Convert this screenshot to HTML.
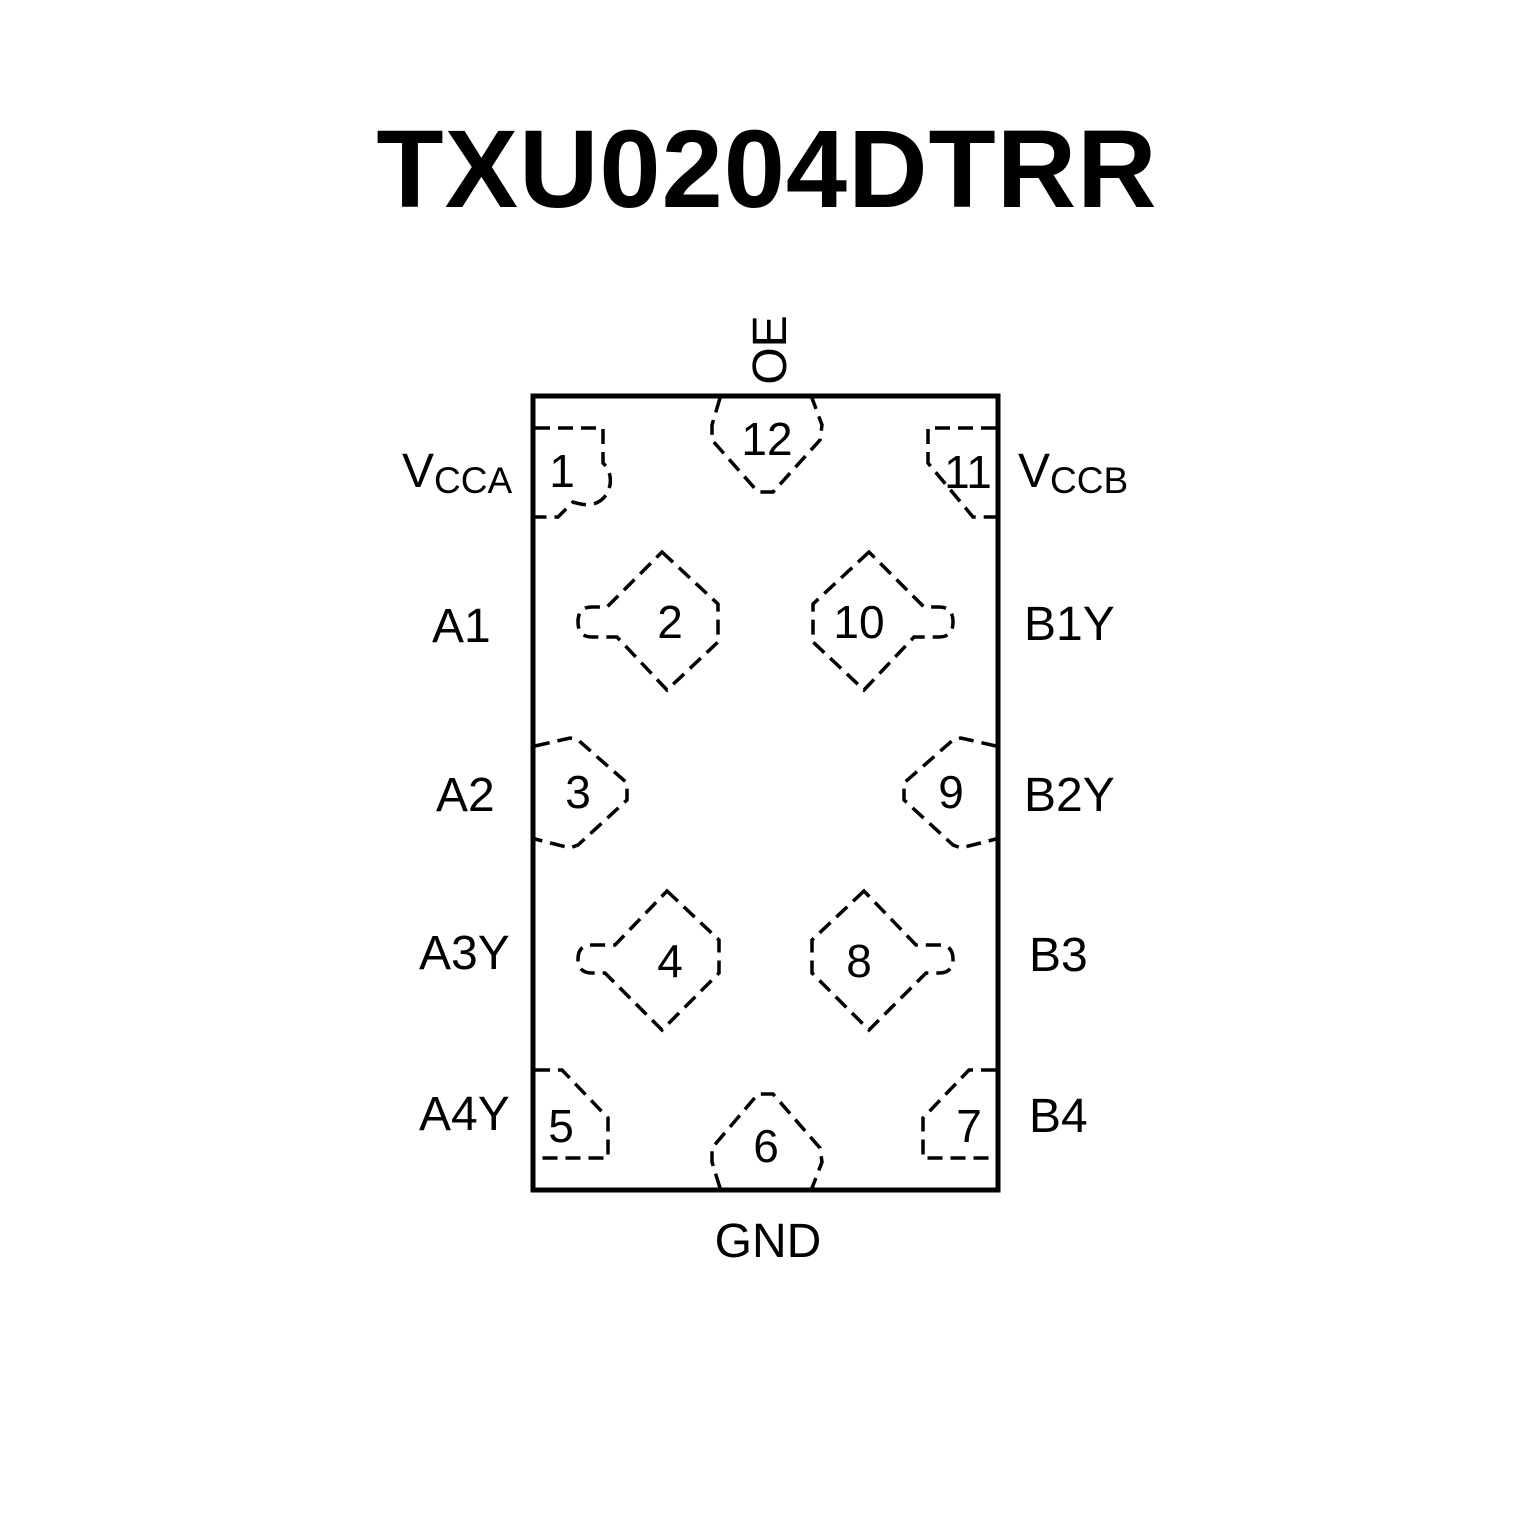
<!DOCTYPE html>
<html><head><meta charset="utf-8"><style>
html,body{margin:0;padding:0;background:#fff;}
svg{display:block;}
</style></head><body>
<svg width="1535" height="1535" viewBox="0 0 1535 1535" xmlns="http://www.w3.org/2000/svg">
<rect width="1535" height="1535" fill="#fff"/>
<text x="767" y="207" text-anchor="middle" font-family="Liberation Sans, sans-serif" font-weight="bold" font-size="110" letter-spacing="1">TXU0204DTRR</text>
<rect x="533" y="396" width="465" height="794" fill="none" stroke="#000" stroke-width="5"/>
<g fill="none" stroke="#000" stroke-width="3.5" stroke-dasharray="15 8">
<path d="M535,428 L603,428 L603,463 Q612,472 610,485 Q606,503 588,505 Q578,504 573,502 L558,517 L535,517"/>
<path d="M996,428 L928,428 L928,463 L973,517 L996,517"/>
<path d="M720,398 L712,425 L712,440 L758,492 L773,492 L820,440 L822,425 L812,398"/>
<path d="M662,552 L718,604 L718,642 L667,690 L617,637 L592,637 Q578,637 578,622 Q578,607 592,607 L607,607 Z"/>
<path d="M869,552 L813,604 L813,642 L864,690 L914,637 L939,637 Q953,637 953,622 Q953,607 939,607 L924,607 Z"/>
<path d="M535,746 L570,738 L578,740 L627,783 L627,800 L578,845 L570,848 L535,839"/>
<path d="M996,746 L961,738 L953,740 L904,783 L904,800 L953,845 L961,848 L996,839"/>
<path d="M667,891 L719,940 L719,973 L662,1030 L605,973 L592,973 Q578,973 578,959 Q578,945 592,945 L615,945 Z"/>
<path d="M864,891 L812,940 L812,973 L869,1030 L926,973 L939,973 Q953,973 953,959 Q953,945 939,945 L916,945 Z"/>
<path d="M535,1070 L562,1070 L608,1118 L608,1158 L535,1158"/>
<path d="M996,1070 L969,1070 L923,1118 L923,1158 L996,1158"/>
<path d="M720,1188 L712,1162 L712,1148 L758,1094 L773,1094 L820,1148 L822,1162 L812,1188"/>
</g>
<g font-family="Liberation Sans, sans-serif" font-size="46" text-anchor="middle">
<text x="562" y="487">1</text>
<text x="767" y="455">12</text>
<text x="968" y="488">11</text>
<text x="670" y="638">2</text>
<text x="859" y="638">10</text>
<text x="578" y="808">3</text>
<text x="951" y="808">9</text>
<text x="670" y="977">4</text>
<text x="859" y="977">8</text>
<text x="561" y="1142">5</text>
<text x="766" y="1162">6</text>
<text x="969" y="1142">7</text>
</g>
<g font-family="Liberation Sans, sans-serif" font-size="48">
<text x="402" y="487">V<tspan font-size="37" dy="6">CCA</tspan></text>
<text x="1018" y="487">V<tspan font-size="37" dy="6">CCB</tspan></text>
<text x="432" y="642">A1</text>
<text x="1024" y="640">B1Y</text>
<text x="436" y="811">A2</text>
<text x="1024" y="811">B2Y</text>
<text x="419" y="969">A3Y</text>
<text x="1029" y="971">B3</text>
<text x="419" y="1130">A4Y</text>
<text x="1029" y="1132">B4</text>
<text x="768" y="1257" text-anchor="middle">GND</text>
<text x="0" y="0" text-anchor="middle" transform="translate(786,350) rotate(-90)">OE</text>
</g>
</svg>
</body></html>
